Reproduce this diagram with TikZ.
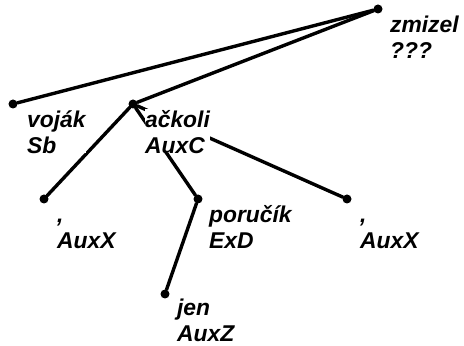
\documentclass[tikz,border=0pt]{standalone}
\usepackage{fontspec}
\setmainfont{Liberation Sans}
\usetikzlibrary{positioning}

\tikzset{
  dot/.style={circle, fill=black, inner sep=0pt, minimum size=0.45cm},
  edge/.style={line width=0.17cm, line cap=round},
  lbl/.style={fill=white, inner sep=0pt, align=left, anchor=north west,
              font=\fontsize{32.5}{37}\selectfont\bfseries\itshape}
}

\begin{document}
\begin{tikzpicture}
  \useasboundingbox (0,0) rectangle (23.2,17.3);

  %% Tree nodes
  \node[dot] (zmizel)  at (18.9,16.85) {};
  \node[dot] (vojak)   at (0.65,12.1)  {};
  \node[dot] (ackoli)  at (6.65,12.1)  {};
  \node[dot] (carkaL)  at (2.2,7.35)   {};
  \node[dot] (porucik) at (9.9,7.35)   {};
  \node[dot] (carkaR)  at (17.35,7.35) {};
  \node[dot] (jen)     at (8.25,2.6)   {};

  %% Edges
  \draw[edge] (zmizel) -- (vojak);
  \draw[edge] (zmizel) -- (ackoli);
  \draw[edge] (ackoli) -- (carkaL);
  \draw[edge] (ackoli) -- (porucik);
  \draw[edge] (ackoli) -- (carkaR);
  \draw[edge] (porucik) -- (jen);

  %% Labels
  \node[lbl, below right=0.24 and 0.6 of zmizel.center]  (zmizellbl)  {\strut zmizel\\???};
  \node[lbl, below right=0.24 and 0.7 of vojak.center]   (vojaklbl)   {\strut voják\\Sb};
  \node[lbl, below right=0.24 and 0.6 of ackoli.center]  (ackolilbl)  {\strut ačkoli\\AuxC};
  \node[lbl, below right=0.24 and 0.65 of carkaL.center] (carkaLlbl)  {\strut ,\\AuxX};
  \node[lbl, below right=0.24 and 0.55 of porucik.center](poruciklbl) {\strut poručík\\ExD};
  \node[lbl, below right=0.24 and 0.65 of carkaR.center] (carkaRlbl)  {\strut ,\\AuxX};
  \node[lbl, below right=0.14 and 0.6 of jen.center]     (jenlbl)     {\strut jen\\AuxZ};
\end{tikzpicture}
\end{document}
